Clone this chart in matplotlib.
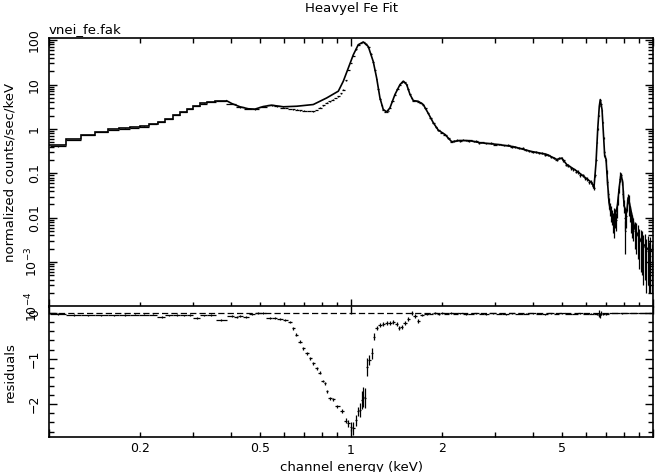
import numpy as np
import matplotlib

matplotlib.use("Agg")
import matplotlib.pyplot as plt
from matplotlib.ticker import (FixedLocator, FuncFormatter, LogLocator,
                               MultipleLocator, NullFormatter)

# ---- model: wide low-energy bins (edges, keV) then fine part ----
low_edges = [0.100, 0.114, 0.128, 0.142, 0.157, 0.171, 0.185, 0.200, 0.214,
             0.229, 0.243, 0.258, 0.272, 0.286, 0.300, 0.316, 0.333, 0.355, 0.388]
low_model = [0.425, 0.58, 0.75, 0.865, 0.975, 1.03, 1.08, 1.156, 1.31, 1.47,
             1.72, 2.08, 2.47, 2.89, 3.37, 3.8, 4.15, 4.3]

model_energy = [0.388, 0.403, 0.429, 0.457, 0.481, 0.512, 0.546, 0.597, 0.661,
                0.750, 0.831, 0.908, 0.943, 0.980, 1.018, 1.057, 1.098, 1.141,
                1.185, 1.216, 1.247, 1.279, 1.313, 1.346, 1.398, 1.453, 1.490,
                1.529, 1.568, 1.608, 1.670, 1.735, 1.799, 1.873, 1.946, 2.048,
                2.155, 2.296, 2.477, 2.674, 3.037, 3.446, 3.915, 4.446, 4.798,
                4.985, 5.178, 5.590, 5.878, 6.266, 6.376, 6.475, 6.56, 6.64,
                6.69, 6.78, 6.87, 6.92, 6.99, 7.06, 7.15, 7.24, 7.36, 7.49,
                7.62, 7.74, 7.83, 7.94, 8.02, 8.18, 8.28, 8.39, 8.57, 8.72,
                8.94, 9.18, 9.41, 9.65, 10.0]
model_flux = [4.3, 3.74, 3.16, 2.85, 2.80, 3.2, 3.43, 3.16, 3.25,
              3.55, 5.0, 7.1, 11.9, 23.7, 47, 79, 91, 72,
              33, 14.1, 5.0, 2.74, 2.43, 2.99, 5.96, 10, 11.9,
              10, 6, 4.36, 4.2, 3.55, 2.3, 1.38, 0.94, 0.75,
              0.515, 0.55, 0.545, 0.49, 0.45, 0.40, 0.316, 0.267, 0.206,
              0.22, 0.159, 0.113, 0.087, 0.062, 0.048, 0.17, 0.98, 3.25,
              4.6, 2.74, 0.58, 0.245, 0.21, 0.073, 0.022, 0.014, 0.011, 0.011,
              0.0185, 0.052, 0.095, 0.062, 0.0185, 0.013, 0.0285, 0.0185, 0.0093, 0.0055,
              0.0039, 0.0028, 0.0023, 0.0019, 0.0017]

# ---- data (vnei_fe.fak) ----
data_energy = [0.107, 0.121, 0.135, 0.149, 0.164, 0.178, 0.192, 0.207, 0.221,
               0.236, 0.250, 0.265, 0.279, 0.293, 0.308, 0.325, 0.344, 0.371,
               0.403, 0.429, 0.457, 0.481, 0.512, 0.546, 0.570, 0.597, 0.612,
               0.628, 0.644, 0.661, 0.680, 0.700, 0.725, 0.750, 0.770, 0.790,
               0.810, 0.831, 0.850, 0.870, 0.890, 0.908, 0.925, 0.943, 0.962,
               0.980, 0.998, 1.018, 1.039, 1.057, 1.078, 1.098, 1.120, 1.141,
               1.163, 1.185, 1.200, 1.216, 1.232, 1.247, 1.263, 1.279, 1.296,
               1.313, 1.330, 1.346, 1.372, 1.398, 1.425, 1.453, 1.470, 1.490,
               1.510, 1.529, 1.548, 1.568, 1.588, 1.608, 1.640, 1.670, 1.700,
               1.735, 1.765, 1.799, 1.835, 1.873, 1.910, 1.946, 2.000, 2.048,
               2.100, 2.155,
               2.20, 2.25, 2.30, 2.35, 2.40, 2.45, 2.50, 2.55, 2.60, 2.65,
               2.70, 2.80, 2.90, 3.00, 3.10, 3.20, 3.30, 3.40, 3.50, 3.60,
               3.70, 3.80, 3.90, 4.00, 4.10, 4.20, 4.30, 4.40, 4.50, 4.60,
               4.70, 4.80, 4.90, 4.98, 5.05, 5.15, 5.25, 5.35, 5.45, 5.55,
               5.65, 5.75, 5.85, 5.95, 6.05, 6.15, 6.25, 6.32, 6.38, 6.44,
               6.48, 6.52, 6.56, 6.60, 6.64, 6.67, 6.70, 6.74, 6.78, 6.82,
               6.86, 6.90, 6.94, 6.98, 7.02, 7.06, 7.10, 7.15, 7.20, 7.25,
               7.30, 7.35, 7.40, 7.45, 7.50, 7.55, 7.60, 7.65, 7.70, 7.75,
               7.80, 7.85, 7.90, 7.95, 8.00, 8.05, 8.10, 8.15, 8.20, 8.25,
               8.30, 8.35, 8.40, 8.45, 8.50, 8.60, 8.70, 8.80, 8.90, 9.00,
               9.10, 9.20, 9.30, 9.40, 9.50, 9.60, 9.70, 9.80, 9.90, 9.97]
data_flux = [0.41, 0.56, 0.73, 0.85, 0.955, 1.01, 1.06, 1.13, 1.28,
             1.44, 1.69, 2.04, 2.43, 2.84, 3.31, 3.74, 4.08, 4.22,
             3.65, 3.08, 2.79, 2.76, 3.18, 3.38, 3.25, 3.02, 2.95,
             2.85, 2.78, 2.72, 2.64, 2.58, 2.53, 2.51, 2.7, 3.0,
             3.4, 3.9, 4.2, 4.6, 5.0, 5.46, 6.3, 7.7, 12.5,
             21, 31, 44, 62, 77, 87, 90, 84, 71,
             50, 32, 21, 13.5, 8.0, 4.8, 3.4, 2.7, 2.45,
             2.4, 2.6, 2.95, 4.2, 5.9, 7.9, 9.9, 11.2, 11.8,
             11.2, 9.9, 7.8, 6.0, 4.9, 4.3, 4.25, 4.15, 3.9,
             3.5, 2.9, 2.3, 1.75, 1.38, 1.1, 0.94, 0.83, 0.75,
             0.62, 0.515,
             0.53, 0.56, 0.54, 0.57, 0.55, 0.53, 0.555, 0.525, 0.53, 0.49,
             0.50, 0.475, 0.48, 0.445, 0.45, 0.425, 0.43, 0.395, 0.40, 0.365,
             0.37, 0.33, 0.325, 0.30, 0.31, 0.285, 0.285, 0.265, 0.26, 0.235,
             0.225, 0.2, 0.22, 0.22, 0.195, 0.155, 0.15, 0.13, 0.125, 0.11,
             0.108, 0.092, 0.09, 0.077, 0.074, 0.063, 0.064, 0.052, 0.047, 0.09,
             0.2, 0.5, 1.0, 2.0, 3.3, 4.4, 4.5, 3.6, 2.6, 1.4,
             0.62, 0.30, 0.24, 0.20, 0.11, 0.065, 0.035, 0.022, 0.016, 0.013,
             0.011, 0.0085, 0.012, 0.0075, 0.011, 0.009, 0.015, 0.025, 0.045, 0.075,
             0.095, 0.09, 0.065, 0.035, 0.019, 0.010, 0.005, 0.011, 0.02, 0.028,
             0.026, 0.017, 0.013, 0.009, 0.0075, 0.0065, 0.005, 0.0045, 0.004, 0.0032,
             0.003, 0.0027, 0.0022, 0.0024, 0.0018, 0.0021, 0.0015, 0.0019, 0.0014, 0.0016]
data_err = [0.008, 0.01, 0.012, 0.013, 0.014, 0.015, 0.015, 0.016, 0.018,
            0.02, 0.023, 0.027, 0.03, 0.034, 0.038, 0.042, 0.045, 0.047,
            0.05, 0.045, 0.04, 0.04, 0.045, 0.05, 0.05, 0.045, 0.045,
            0.04, 0.04, 0.04, 0.04, 0.04, 0.04, 0.04, 0.04, 0.045,
            0.05, 0.06, 0.065, 0.07, 0.075, 0.08, 0.09, 0.1, 0.15,
            0.2, 0.3, 0.4, 0.5, 0.6, 0.7, 0.7, 0.7, 0.6,
            0.5, 0.35, 0.25, 0.2, 0.12, 0.08, 0.06, 0.05, 0.05,
            0.05, 0.05, 0.05, 0.07, 0.09, 0.12, 0.14, 0.15, 0.16,
            0.15, 0.14, 0.12, 0.09, 0.08, 0.07, 0.07, 0.07, 0.06,
            0.06, 0.05, 0.04, 0.035, 0.03, 0.025, 0.02, 0.02, 0.018,
            0.016, 0.014,
            0.02, 0.02, 0.02, 0.02, 0.02, 0.02, 0.02, 0.02, 0.02, 0.02,
            0.02, 0.02, 0.02, 0.02, 0.02, 0.02, 0.02, 0.018, 0.018, 0.018,
            0.018, 0.017, 0.017, 0.016, 0.016, 0.015, 0.015, 0.015, 0.014, 0.014,
            0.013, 0.013, 0.013, 0.013, 0.012, 0.011, 0.011, 0.01, 0.01, 0.009,
            0.009, 0.008, 0.008, 0.007, 0.007, 0.006, 0.006, 0.006, 0.005, 0.008,
            0.012, 0.02, 0.03, 0.05, 0.06, 0.07, 0.07, 0.06, 0.05, 0.04,
            0.03, 0.02, 0.017, 0.016, 0.012, 0.009, 0.007, 0.006, 0.005, 0.005,
            0.004, 0.004, 0.005, 0.004, 0.005, 0.004, 0.005, 0.006, 0.008, 0.01,
            0.011, 0.011, 0.009, 0.007, 0.006, 0.005, 0.0035, 0.005, 0.006, 0.007,
            0.007, 0.006, 0.005, 0.0045, 0.004, 0.0035, 0.003, 0.003, 0.0028, 0.0025,
            0.0024, 0.0022, 0.0019, 0.002, 0.0016, 0.0018, 0.0013, 0.0017, 0.0012, 0.0014]

# ---- residuals ----
res_energy = [0.107, 0.121, 0.135, 0.149, 0.164, 0.178, 0.192, 0.207, 0.221,
              0.236, 0.250, 0.265, 0.279, 0.293, 0.308, 0.325, 0.344, 0.371,
              0.404, 0.419, 0.429, 0.449, 0.470, 0.492, 0.510, 0.539, 0.560,
              0.582, 0.605, 0.628, 0.643, 0.658, 0.678, 0.695, 0.717, 0.731,
              0.750, 0.770, 0.790, 0.806, 0.820, 0.831, 0.852, 0.874, 0.901,
              0.932, 0.962, 0.980, 0.998, 1.018, 1.039, 1.057, 1.071, 1.085,
              1.098, 1.113, 1.132, 1.150, 1.171, 1.192, 1.216, 1.247, 1.279,
              1.313, 1.346, 1.381, 1.417, 1.445, 1.472, 1.510, 1.548, 1.589,
              1.629, 1.670, 1.714, 1.781,
              1.85, 1.90, 1.95, 2.0, 2.07, 2.15, 2.22, 2.3, 2.4, 2.5,
              2.6, 2.7, 2.8, 2.95, 3.1, 3.25, 3.4, 3.6, 3.8, 4.0,
              4.2, 4.4, 4.6, 4.8, 5.0, 5.25, 5.5, 5.75, 6.0, 6.25,
              6.5, 6.6, 6.65, 6.7, 6.75, 6.85, 7.0, 7.3, 7.6, 7.9,
              8.2, 8.5, 8.8, 9.1, 9.4, 9.7]
res_value = [-0.02, -0.04, -0.05, -0.05, -0.05, -0.04, -0.03, -0.03, -0.03,
             -0.08, -0.05, -0.04, -0.05, -0.04, -0.11, -0.05, -0.04, -0.15,
             -0.06, -0.08, -0.06, -0.08, -0.02, 0.0, 0.01, -0.11, -0.11,
             -0.12, -0.15, -0.20, -0.33, -0.47, -0.63, -0.77, -0.88, -0.99,
             -1.10, -1.21, -1.31, -1.49, -1.54, -1.72, -1.87, -1.89, -2.05,
             -2.15, -2.36, -2.42, -2.49, -2.53, -2.35, -2.16, -2.13, -1.91,
             -1.84, -1.87, -1.18, -1.03, -0.88, -0.52, -0.33, -0.26, -0.24,
             -0.22, -0.21, -0.19, -0.24, -0.33, -0.30, -0.21, -0.13, 0.01,
             -0.06, -0.17, -0.04, -0.02,
             -0.01, 0.0, -0.02, 0.0, -0.01, 0.0, -0.01, 0.0, -0.02, -0.01,
             0.0, -0.01, -0.02, 0.0, -0.01, -0.02, 0.0, -0.01, -0.01, 0.0,
             -0.01, -0.02, 0.0, -0.01, 0.0, -0.01, -0.01, 0.0, -0.01, -0.01,
             -0.02, -0.04, 0.01, -0.05, 0.0, -0.02, -0.01, 0.0, 0.0, -0.005,
             0.0, 0.0, 0.0, 0.0, 0.0, 0.0]
res_err = [0.02, 0.02, 0.02, 0.02, 0.02, 0.02, 0.02, 0.02, 0.02,
           0.02, 0.02, 0.02, 0.02, 0.02, 0.02, 0.02, 0.02, 0.02,
           0.02, 0.02, 0.02, 0.02, 0.02, 0.02, 0.02, 0.02, 0.02,
           0.02, 0.02, 0.02, 0.03, 0.03, 0.03, 0.03, 0.03, 0.03,
           0.03, 0.03, 0.03, 0.03, 0.03, 0.03, 0.03, 0.03, 0.04,
           0.05, 0.06, 0.08, 0.1, 0.15, 0.12, 0.1, 0.15, 0.2,
           0.22, 0.22, 0.2, 0.1, 0.12, 0.08, 0.05, 0.04, 0.04,
           0.04, 0.04, 0.04, 0.04, 0.05, 0.04, 0.04, 0.04, 0.04,
           0.04, 0.04, 0.03, 0.02,
           0.015, 0.015, 0.015, 0.015, 0.015, 0.015, 0.015, 0.012, 0.012, 0.012,
           0.012, 0.012, 0.012, 0.012, 0.012, 0.012, 0.012, 0.012, 0.012, 0.012,
           0.012, 0.012, 0.012, 0.012, 0.012, 0.012, 0.012, 0.012, 0.012, 0.012,
           0.015, 0.05, 0.05, 0.05, 0.05, 0.02, 0.02, 0.005, 0.005, 0.005,
           0.005, 0.005, 0.005, 0.005, 0.005, 0.005]

x_major_labels = {1.0: "1"}
x_minor_labels = {0.2: "0.2", 0.5: "0.5", 2.0: "2", 5.0: "5"}
y_labels = {100: "100", 10: "10", 1: "1", 0.1: "0.1", 0.01: "0.01",
            1e-3: r"$10^{-3}$", 1e-4: r"$10^{-4}$"}


def half_widths(e):
    # bin half-widths from the midpoints (log) between neighbouring channels
    e = np.asarray(e)
    mid = np.sqrt(e[1:] * e[:-1])
    lo = np.concatenate([[e[0] ** 2 / mid[0]], mid])
    hi = np.concatenate([mid, [e[-1] ** 2 / mid[-1]]])
    return e - lo, hi - e


def lookup(table):
    def fmt(v, pos):
        for k, s in table.items():
            if abs(v - k) < 1e-6 * max(k, 1e-6):
                return s
        return ""
    return FuncFormatter(fmt)


def style_axes(ax):
    for sp in ax.spines.values():
        sp.set_linewidth(1.2)
    ax.set_xscale("log")
    ax.set_xlim(0.1, 10)
    ax.xaxis.set_major_locator(FixedLocator([0.1, 1, 10]))
    ax.xaxis.set_minor_locator(LogLocator(base=10, subs=np.arange(2, 10)))
    ax.tick_params(which="both", direction="in", top=True, right=True,
                   width=1.0, labelsize=9)
    ax.tick_params(which="major", length=6)
    ax.tick_params(which="minor", length=3.5)
    ax.tick_params(axis="y", labelrotation=90, pad=6)
    ax.tick_params(axis="x", pad=5)


fig = plt.figure(figsize=(6.6, 4.72), dpi=100)
ax1 = fig.add_axes([0.0742, 0.3506, 0.9152, 0.5689])
ax2 = fig.add_axes([0.0742, 0.0742, 0.9152, 0.2765])

# top: spectrum
style_axes(ax1)
ax1.set_yscale("log")
ax1.set_ylim(1e-4, 112)
ax1.yaxis.set_major_locator(LogLocator(base=10, numticks=10))
ax1.yaxis.set_minor_locator(LogLocator(base=10, subs=np.arange(2, 10), numticks=10))
ax1.yaxis.set_major_formatter(lookup(y_labels))
ax1.yaxis.set_minor_formatter(NullFormatter())
ax1.tick_params(labelbottom=False)
for t in ax1.get_yticklabels():
    t.set_va("center")

ax1.stairs(low_model, low_edges, baseline=None, color="black", lw=1.2)
ax1.plot(model_energy, model_flux, color="black", lw=1.2)
dlo, dhi = half_widths(data_energy)
ax1.errorbar(data_energy, data_flux, xerr=[dlo, dhi], yerr=data_err,
             fmt="none", ecolor="black", elinewidth=0.9)

# bottom: residuals
style_axes(ax2)
ax2.set_ylim(-2.72, 0.147)
ax2.yaxis.set_major_locator(MultipleLocator(1))
ax2.yaxis.set_minor_locator(MultipleLocator(0.2))
ax2.xaxis.set_major_formatter(lookup(x_major_labels))
ax2.xaxis.set_minor_formatter(lookup(x_minor_labels))
ax2.tick_params(axis="x", which="minor", top=False)
for t in ax2.get_yticklabels():
    t.set_va("center")

ax2.axhline(0, color="black", lw=0.9, ls=(0, (5, 2.5)))
rlo, rhi = half_widths(res_energy)
ax2.errorbar(res_energy, res_value, xerr=[rlo, rhi], yerr=res_err,
             fmt="none", ecolor="black", elinewidth=0.9)

fig.text(0.532, 1 - 8.5 / 472, "Heavyel Fe Fit", ha="center", va="center",
         fontsize=9.5)
fig.text(49 / 660, 1 - 33 / 472, "vnei_fe.fak", ha="left", va="baseline",
         fontsize=9.5)
fig.text(10 / 660, 1 - 172 / 472, "normalized counts/sec/keV", rotation=90,
         ha="center", va="center", fontsize=9.5)
fig.text(10 / 660, 1 - 372 / 472, "residuals", rotation=90,
         ha="center", va="center", fontsize=9.5)
fig.text(0.532, 1 - 461 / 472, "channel energy (keV)", ha="center", va="top",
         fontsize=9.5)

fig.savefig("out.png", dpi=100)
